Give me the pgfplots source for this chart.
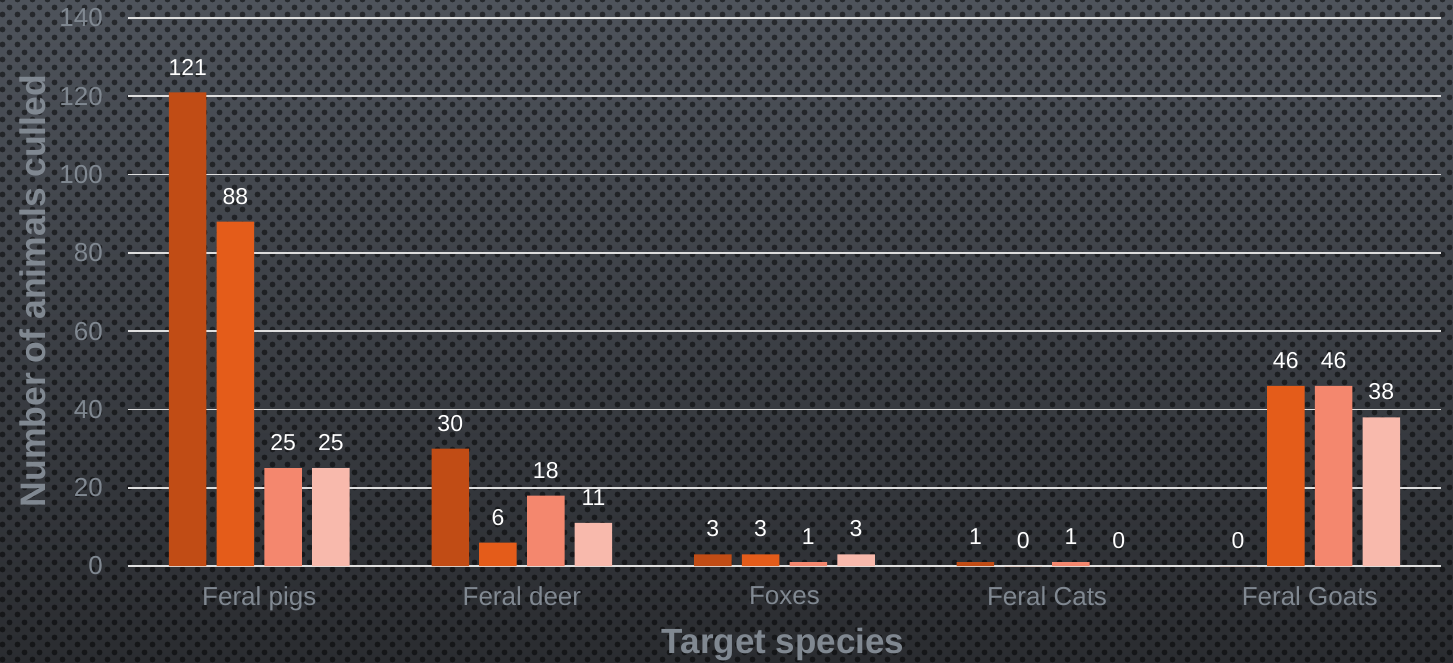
\documentclass[border=0pt]{standalone}
\usepackage{pgfplots}
\pgfplotsset{compat=1.18}
\usepackage{fontspec}
\setmainfont{Liberation Sans}
\usetikzlibrary{patterns.meta}

\definecolor{bgtop}{RGB}{78,83,91}
\definecolor{bgbot}{RGB}{42,44,48}
\definecolor{labgray}{RGB}{128,136,145}
\definecolor{cA}{RGB}{193,76,21}
\definecolor{cB}{RGB}{228,92,26}
\definecolor{cC}{RGB}{244,135,110}
\definecolor{cD}{RGB}{248,185,172}
\definecolor{gridc}{RGB}{222,222,222}

\tikzdeclarepattern{
  name=hexdots,
  type=uncolored,
  bounding box={(0pt,0pt) and (15pt,15pt)},
  tile size={(15pt,15pt)},
  code={
    \pgfpathcircle{\pgfpoint{3.75pt}{3.75pt}}{3.1pt}
    \pgfpathcircle{\pgfpoint{11.25pt}{11.25pt}}{3.1pt}
    \pgfusepath{fill}
  }
}

\pgfplotstableread{
x A B C D
0 121 88 25 25
1 30 6 18 11
2 3 3 1 3
3 1 0 1 0
4 0 46 46 38
}\culldata

\begin{document}
\begin{tikzpicture}[x=1pt,y=1pt]
\shade[top color=bgtop, bottom color=bgbot] (0,0) rectangle (1453,662);
\fill[pattern=hexdots, pattern color=black, opacity=0.5] (0,0) rectangle (1453,662);
\begin{axis}[
  at={(128pt,96pt)}, anchor=south west,
  scale only axis,
  width=1313pt, height=548pt,
  xmin=-0.5, xmax=4.5,
  ymin=0, ymax=140,
  ytick={0,20,...,140},
  xtick={0,1,2,3,4},
  xticklabels={Feral pigs, Feral deer, Foxes, Feral Cats, Feral Goats},
  axis line style={draw=none},
  major tick length=0pt,
  ymajorgrids,
  major grid style={gridc, line width=1.8pt},
  /pgf/number format/assume math mode=true,
  ticklabel style={font=\fontsize{26}{30}\selectfont, text=labgray, inner sep=0pt},
  xticklabel style={anchor=north, yshift=-20pt},
  yticklabel style={anchor=east, xshift=-25pt},
  ybar,
  bar width=37.5pt,
  nodes near coords,
  every node near coord/.append style={font=\fontsize{23}{27}\selectfont, text=white, inner sep=0pt, anchor=south, yshift=17pt},
  clip=false,
]
\addplot[fill=cA, draw=none, bar shift=-71.6pt] table[x=x, y=A] {\culldata};
\addplot[fill=cB, draw=none, bar shift=-23.9pt] table[x=x, y=B] {\culldata};
\addplot[fill=cC, draw=none, bar shift=23.9pt] table[x=x, y=C] {\culldata};
\addplot[fill=cD, draw=none, bar shift=71.6pt] table[x=x, y=D] {\culldata};
\end{axis}
\node[anchor=base, text=labgray, font=\fontsize{35}{39}\selectfont\bfseries] at (783,9) {Target species};
\node[anchor=base, rotate=90, text=labgray, font=\fontsize{35.5}{39}\selectfont\bfseries] at (45,371) {Number of animals culled};
\pgfresetboundingbox
\useasboundingbox (0,0) rectangle (1453,662);
\end{tikzpicture}
\end{document}
